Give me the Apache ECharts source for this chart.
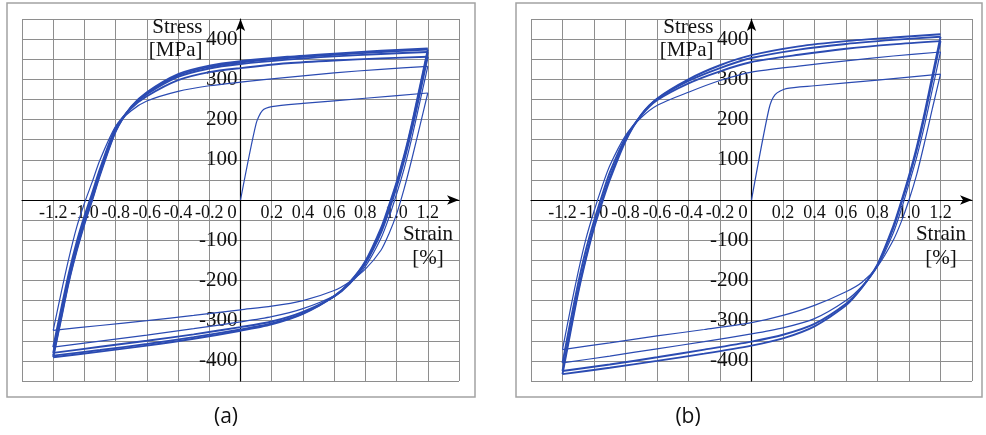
<!DOCTYPE html>
<html>
<head>
<meta charset="utf-8">
<script src="https://cdn.jsdelivr.net/npm/echarts@6/dist/echarts.min.js"></script>
<style>
html, body { margin: 0; padding: 0; background: #ffffff; }
#chart { width: 986px; height: 435px; }
</style>
</head>
<body>
<div id="chart"></div>
<script>
// Strain stations (%) shared by every half-cycle branch
const strainUp   = [-1.2, -1.15, -1.1, -1.05, -1.0, -0.95, -0.9, -0.8, -0.7, -0.6, -0.4, -0.2, 0, 0.3, 0.6, 0.9, 1.2];
const strainDown = [1.2, 1.15, 1.1, 1.05, 1.0, 0.95, 0.9, 0.8, 0.7, 0.6, 0.4, 0.2, 0, -0.3, -0.6, -0.9, -1.2];

// Panel (a): first loading
const aInitStrain = [0, 0.1, 0.14, 0.2, 0.4, 0.8, 1.2];
const aInitStress = [0, 190, 222, 232, 240, 253, 266];
// Panel (a): stress (MPa) of each branch at the strain stations
const aDown1 = [266, 185, 105, 30, -35, -85, -125, -172, -203, -225, -250, -264, -273, -287, -300, -312, -324];
const aUp2   = [-324, -232, -145, -68, -8, 45, 100, 183, 222, 246, 270, 284, 293, 305, 316, 325, 332];
const aDown2 = [332, 245, 158, 80, 15, -45, -95, -165, -208, -238, -270, -290, -303, -320, -336, -351, -366];
const aUp3   = [-366, -272, -182, -105, -40, 18, 78, 180, 228, 258, 298, 318, 328, 340, 347, 352, 356];
const aDown3 = [356, 266, 178, 100, 32, -28, -82, -158, -208, -240, -278, -302, -316, -334, -350, -365, -380];
const aUp4   = [-380, -286, -194, -117, -50, 8, 70, 175, 230, 263, 306, 327, 338, 349, 357, 363, 368];
const aDown4 = [368, 277, 188, 108, 40, -20, -75, -155, -205, -240, -282, -307, -322, -341, -358, -373, -387];
const aUp5   = [-387, -293, -200, -123, -56, 3, 66, 172, 231, 266, 310, 331, 342, 353, 361, 368, 374];
const aDown5 = [374, 283, 193, 113, 44, -15, -70, -152, -204, -239, -283, -309, -325, -345, -362, -377, -391];
const aUp6   = [-391, -297, -204, -127, -60, 0, 62, 170, 232, 268, 313, 334, 345, 356, 364, 371, 377];

// Panel (b): first loading
const bInitStrain = [0, 0.11, 0.15, 0.22, 0.4, 0.8, 1.2];
const bInitStress = [0, 225, 262, 277, 284, 298, 313];
// Panel (b): stress (MPa) of each branch at the strain stations
const bDown1 = [313, 230, 145, 65, 0, -55, -100, -165, -205, -228, -262, -287, -305, -322, -338, -355, -372];
const bUp2   = [-372, -272, -178, -95, -28, 32, 85, 160, 205, 235, 268, 297, 318, 333, 346, 358, 368];
const bDown2 = [368, 278, 188, 108, 40, -25, -82, -165, -215, -250, -295, -318, -333, -352, -370, -388, -405];
const bUp3   = [-405, -303, -206, -122, -52, 10, 68, 155, 210, 248, 290, 320, 343, 361, 376, 387, 395];
const bDown3 = [395, 302, 210, 126, 55, -10, -70, -162, -218, -258, -308, -335, -352, -372, -391, -409, -425];
const bUp4   = [-425, -322, -224, -139, -65, -2, 56, 150, 212, 251, 296, 328, 353, 374, 388, 398, 406];
const bDown4 = [406, 312, 218, 133, 60, -5, -65, -160, -218, -262, -314, -344, -362, -382, -400, -417, -433];
const bUp5   = [-433, -330, -230, -145, -70, -8, 50, 146, 212, 252, 300, 335, 360, 382, 395, 404, 412];

// Axis tick labels
const strainLabels = ['-1.2', '-1.0', '-0.8', '-0.6', '-0.4', '-0.2', '0', '0.2', '0.4', '0.6', '0.8', '1.0', '1.2'];
const stressLabels = ['400', '300', '200', '100', '-100', '-200', '-300', '-400'];

const pairs = (xs, ys) => xs.map((x, i) => [x, ys[i]]);

const LINE = '#2b4bb2';
const GRIDC = '#8e8e8e';
const SERIF = 'Liberation Serif';
const GRIDS = [
  { left: 22, top: 19, width: 437, height: 362 },
  { left: 531, top: 19, width: 441, height: 362 }
];

function branchSeries(idx, data, width) {
  return {
    type: 'line', xAxisIndex: idx, yAxisIndex: idx,
    data: data, showSymbol: false, symbol: 'none', smooth: 0.25,
    lineStyle: { color: LINE, width: width }, silent: true, animation: false, z: 3
  };
}

// Axes sit through the origin: shifted in from the grid edge by half the grid size
function xAxisFor(idx) {
  return {
    type: 'value', gridIndex: idx, min: -1.4, max: 1.4, interval: 0.2,
    position: 'bottom', offset: -GRIDS[idx].height / 2,
    name: 'Strain\n[%]', nameLocation: 'end', nameGap: -31, nameMoveOverlap: false,
    nameTextStyle: { fontFamily: SERIF, fontSize: 21, color: '#111', align: 'center', verticalAlign: 'top', lineHeight: 24, padding: [22, 0, 0, 0] },
    axisLine: { onZero: false, lineStyle: { color: '#000', width: 1.2 }, symbol: ['none', 'arrow'], symbolSize: [7, 12] },
    axisTick: { show: false },
    splitLine: { show: true, lineStyle: { color: GRIDC, width: 1 } },
    axisLabel: {
      margin: 4, fontFamily: SERIF, fontSize: 18, color: '#111', hideOverlap: false,
      formatter: v => {
        const t = Math.abs(v) < 1e-9 ? '0' : v.toFixed(1);
        if (!strainLabels.includes(t)) return '';
        return t === '0' ? '{z|0}' : '{n|' + t + '}';
      },
      rich: {
        n: { fontFamily: SERIF, fontSize: 18, color: '#111' },
        z: { fontFamily: SERIF, fontSize: 19, color: '#111', padding: [0, 17, 0, 0] }
      }
    }
  };
}

function yAxisFor(idx) {
  return {
    type: 'value', gridIndex: idx, min: -450, max: 450, interval: 50,
    position: 'left', offset: -GRIDS[idx].width / 2,
    name: 'Stress\n[MPa]', nameLocation: 'end', nameGap: 3, nameMoveOverlap: false,
    nameTextStyle: { fontFamily: SERIF, fontSize: 21, color: '#111', align: 'right', verticalAlign: 'top', lineHeight: 23, padding: [0, 38, 0, 0] },
    axisLine: { onZero: false, lineStyle: { color: '#000', width: 1.2 }, symbol: ['none', 'arrow'], symbolSize: [7, 12] },
    axisTick: { show: false },
    splitLine: { show: true, lineStyle: { color: GRIDC, width: 1 } },
    axisLabel: {
      margin: 3, fontFamily: SERIF, fontSize: 21, color: '#111', hideOverlap: false,
      formatter: v => { const t = String(Math.round(v)); return stressLabels.includes(t) ? '{n|' + t + '}' : ''; },
      rich: { n: { fontFamily: SERIF, fontSize: 21, color: '#111' } }
    }
  };
}

const series = [];
// panel (a)
series.push(branchSeries(0, pairs(aInitStrain, aInitStress), 1.2));
[[aDown1, 1], [aUp2, 0], [aDown2, 1], [aUp3, 0], [aDown3, 1], [aUp4, 0], [aDown4, 1], [aUp5, 0], [aDown5, 1], [aUp6, 0]]
  .forEach(([ys, dir], i) => series.push(branchSeries(0, pairs(dir ? strainDown : strainUp, ys), i < 3 ? 1.2 : 1.9)));
// panel (b)
series.push(branchSeries(1, pairs(bInitStrain, bInitStress), 1.2));
[[bDown1, 1], [bUp2, 0], [bDown2, 1], [bUp3, 0], [bDown3, 1], [bUp4, 0], [bDown4, 1], [bUp5, 0]]
  .forEach(([ys, dir], i) => series.push(branchSeries(1, pairs(dir ? strainDown : strainUp, ys), i < 3 ? 1.2 : 1.9)));

const chart = echarts.init(document.getElementById('chart'), null, { renderer: 'canvas' });
chart.setOption({
  backgroundColor: '#ffffff',
  animation: false,
  textStyle: { fontFamily: SERIF },
  grid: GRIDS.map(g => Object.assign({ show: false, containLabel: false, outerBoundsMode: 'none' }, g)),
  xAxis: [xAxisFor(0), xAxisFor(1)],
  yAxis: [yAxisFor(0), yAxisFor(1)],
  series: series,
  graphic: [
    { type: 'rect', shape: { x: 7, y: 3, width: 468, height: 394 }, style: { fill: 'none', stroke: '#a3a3a3', lineWidth: 1.5 }, silent: true, z: -1 },
    { type: 'rect', shape: { x: 516, y: 3, width: 466, height: 394 }, style: { fill: 'none', stroke: '#a3a3a3', lineWidth: 1.5 }, silent: true, z: -1 },
    { type: 'text', x: 226, y: 417, style: { text: '(a)', fontFamily: 'Open Sans', fontSize: 21, fill: '#111', align: 'center', verticalAlign: 'middle' }, silent: true },
    { type: 'text', x: 688, y: 417, style: { text: '(b)', fontFamily: 'Open Sans', fontSize: 21, fill: '#111', align: 'center', verticalAlign: 'middle' }, silent: true }
  ]
});
</script>
</body>
</html>
